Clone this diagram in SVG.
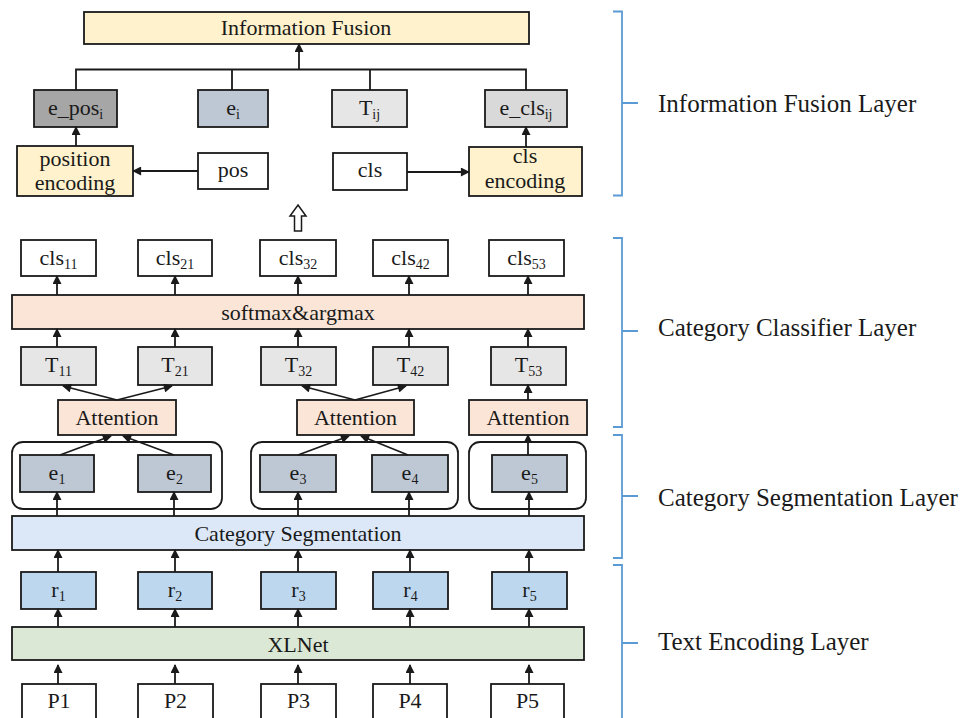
<svg xmlns="http://www.w3.org/2000/svg" width="967" height="718" viewBox="0 0 967 718">
<style>
.bx{stroke:#1a1a1a;stroke-width:1.8}
.w{fill:#ffffff}.y{fill:#FFF2CC}.dg{fill:#A6A6A6}.bg{fill:#BEC8D4}.lg{fill:#E7E6E6}.mg{fill:#D9D9D9}
.pe{fill:#FBE5D6}.lb{fill:#DCE8F7}.rb{fill:#BDD7EE}.gr{fill:#DAE8D5}
.grp{fill:none;stroke:#1a1a1a;stroke-width:1.8}
text{font-family:"Liberation Serif","Times New Roman",serif;font-size:22px;fill:#1a1a1a;text-anchor:middle}
.sub{font-size:14px}
.lay{font-size:25px;text-anchor:start}
.cn line,.cn path.ln{stroke:#1a1a1a;stroke-width:1.8;fill:none}
.ar{marker-end:url(#ah)}
.br{fill:none;stroke:#5B9BD5;stroke-width:1.8}
</style>
<defs>
<marker id="ah" viewBox="0 0 10 10" refX="9" refY="5" markerWidth="10" markerHeight="9" markerUnits="userSpaceOnUse" orient="auto">
<path d="M0,0 L10,5 L0,10 z" fill="#1a1a1a"/>
</marker>
</defs>
<rect width="967" height="718" fill="#ffffff"/>

<!-- Information fusion layer -->
<g id="fusion"><rect class="bx y" x="84" y="12" width="445" height="32"/><text x="306" y="35">Information Fusion</text></g>
<g id="epos"><rect class="bx dg" x="34" y="90" width="83" height="37"/><text x="75.5" y="115">e_pos<tspan class="sub" dy="4">i</tspan></text></g>
<g id="ei"><rect class="bx bg" x="198" y="90" width="70" height="37"/><text x="233" y="115">e<tspan class="sub" dy="4">i</tspan></text></g>
<g id="tij"><rect class="bx lg" x="332" y="90" width="75" height="37"/><text x="369.5" y="115">T<tspan class="sub" dy="4">ij</tspan></text></g>
<g id="ecls"><rect class="bx mg" x="485" y="90" width="82" height="37"/><text x="526" y="115">e_cls<tspan class="sub" dy="4">ij</tspan></text></g>
<g id="posenc"><rect class="bx y" x="17" y="146" width="116" height="50"/><text x="75" y="166">position</text><text x="75" y="190">encoding</text></g>
<g id="pos"><rect class="bx w" x="198" y="153" width="70" height="36"/><text x="233" y="177">pos</text></g>
<g id="cls"><rect class="bx w" x="333" y="153" width="74" height="37"/><text x="370" y="177">cls</text></g>
<g id="clsenc"><rect class="bx y" x="469" y="147" width="113" height="49"/><text x="525" y="163">cls</text><text x="525" y="188">encoding</text></g>

<!-- Category classifier layer -->
<g id="cls11"><rect class="bx w" x="21" y="240" width="75" height="36"/><text x="58.5" y="265">cls<tspan class="sub" dy="4">11</tspan></text></g>
<g id="cls21"><rect class="bx w" x="138" y="240" width="74" height="36"/><text x="175" y="265">cls<tspan class="sub" dy="4">21</tspan></text></g>
<g id="cls32"><rect class="bx w" x="260" y="240" width="76" height="36"/><text x="298" y="265">cls<tspan class="sub" dy="4">32</tspan></text></g>
<g id="cls42"><rect class="bx w" x="373" y="240" width="75" height="36"/><text x="410.5" y="265">cls<tspan class="sub" dy="4">42</tspan></text></g>
<g id="cls53"><rect class="bx w" x="489" y="240" width="75" height="36"/><text x="526.5" y="265">cls<tspan class="sub" dy="4">53</tspan></text></g>
<g id="softmax"><rect class="bx pe" x="12" y="295" width="572" height="34"/><text x="298" y="320">softmax&amp;argmax</text></g>
<g id="t11"><rect class="bx lg" x="21" y="347" width="75" height="38"/><text x="58.5" y="372">T<tspan class="sub" dy="4">11</tspan></text></g>
<g id="t21"><rect class="bx lg" x="138" y="347" width="74" height="38"/><text x="175" y="372">T<tspan class="sub" dy="4">21</tspan></text></g>
<g id="t32"><rect class="bx lg" x="261" y="347" width="75" height="38"/><text x="298.5" y="372">T<tspan class="sub" dy="4">32</tspan></text></g>
<g id="t42"><rect class="bx lg" x="373" y="347" width="75" height="38"/><text x="410.5" y="372">T<tspan class="sub" dy="4">42</tspan></text></g>
<g id="t53"><rect class="bx lg" x="491" y="347" width="75" height="38"/><text x="528.5" y="372">T<tspan class="sub" dy="4">53</tspan></text></g>
<g id="att1"><rect class="bx pe" x="58" y="400" width="118" height="35"/><text x="117" y="425">Attention</text></g>
<g id="att2"><rect class="bx pe" x="297" y="400" width="117" height="35"/><text x="355.5" y="425">Attention</text></g>
<g id="att3"><rect class="bx pe" x="469" y="400" width="118" height="35"/><text x="528" y="425">Attention</text></g>

<!-- Category segmentation layer -->
<g id="grp1"><rect class="grp" x="12" y="442" width="210" height="67" rx="11"/></g>
<g id="grp2"><rect class="grp" x="251" y="442" width="207" height="67" rx="11"/></g>
<g id="grp3"><rect class="grp" x="469" y="442" width="117" height="67" rx="11"/></g>
<g id="e1"><rect class="bx bg" x="20" y="455" width="74" height="37"/><text x="57" y="480">e<tspan class="sub" dy="4">1</tspan></text></g>
<g id="e2"><rect class="bx bg" x="138" y="455" width="73" height="37"/><text x="174.5" y="480">e<tspan class="sub" dy="4">2</tspan></text></g>
<g id="e3"><rect class="bx bg" x="260" y="455" width="76" height="37"/><text x="298" y="480">e<tspan class="sub" dy="4">3</tspan></text></g>
<g id="e4"><rect class="bx bg" x="372" y="455" width="76" height="37"/><text x="410" y="480">e<tspan class="sub" dy="4">4</tspan></text></g>
<g id="e5"><rect class="bx bg" x="492" y="455" width="75" height="37"/><text x="529.5" y="480">e<tspan class="sub" dy="4">5</tspan></text></g>
<g id="catseg"><rect class="bx lb" x="12" y="516" width="572" height="34"/><text x="298" y="541">Category Segmentation</text></g>

<!-- Text encoding layer -->
<g id="r1"><rect class="bx rb" x="21" y="572" width="75" height="37"/><text x="58.5" y="597">r<tspan class="sub" dy="4">1</tspan></text></g>
<g id="r2"><rect class="bx rb" x="138" y="572" width="74" height="37"/><text x="175" y="597">r<tspan class="sub" dy="4">2</tspan></text></g>
<g id="r3"><rect class="bx rb" x="261" y="572" width="75" height="37"/><text x="298.5" y="597">r<tspan class="sub" dy="4">3</tspan></text></g>
<g id="r4"><rect class="bx rb" x="373" y="572" width="75" height="37"/><text x="410.5" y="597">r<tspan class="sub" dy="4">4</tspan></text></g>
<g id="r5"><rect class="bx rb" x="492" y="572" width="75" height="37"/><text x="529.5" y="597">r<tspan class="sub" dy="4">5</tspan></text></g>
<g id="xlnet"><rect class="bx gr" x="12" y="627" width="572" height="33"/><text x="298" y="652">XLNet</text></g>
<g id="p1"><rect class="bx w" x="22" y="684" width="74" height="35"/><text x="59" y="708">P1</text></g>
<g id="p2"><rect class="bx w" x="138" y="684" width="75" height="35"/><text x="175.5" y="708">P2</text></g>
<g id="p3"><rect class="bx w" x="261" y="684" width="75" height="35"/><text x="298.5" y="708">P3</text></g>
<g id="p4"><rect class="bx w" x="373" y="684" width="74" height="35"/><text x="410" y="708">P4</text></g>
<g id="p5"><rect class="bx w" x="491" y="684" width="73" height="35"/><text x="527.5" y="708">P5</text></g>

<!-- connectors -->
<g id="connectors" class="cn">
<line class="ar" x1="299" y1="69" x2="299" y2="44"/>
<path class="ln" d="M76,90 V69.5 H526 V90 M232,69.5 V90 M370,69.5 V90"/>
<line class="ar" x1="76" y1="146" x2="76" y2="127"/>
<line class="ar" x1="198" y1="171" x2="133" y2="171"/>
<line class="ar" x1="407" y1="172" x2="469" y2="172"/>
<line class="ar" x1="526" y1="147" x2="526" y2="127"/>
<path d="M298,205 L306,216 L301.5,216 L301.5,231 L294.5,231 L294.5,216 L290,216 Z" fill="#ffffff" stroke="#1a1a1a" stroke-width="1.5"/>

<line class="ar" x1="57" y1="295" x2="57" y2="276"/>
<line class="ar" x1="175" y1="295" x2="175" y2="276"/>
<line class="ar" x1="298" y1="295" x2="298" y2="276"/>
<line class="ar" x1="409" y1="295" x2="409" y2="276"/>
<line class="ar" x1="528" y1="295" x2="528" y2="276"/>

<line class="ar" x1="57" y1="347" x2="57" y2="329"/>
<line class="ar" x1="175" y1="347" x2="175" y2="329"/>
<line class="ar" x1="298" y1="347" x2="298" y2="329"/>
<line class="ar" x1="409" y1="347" x2="409" y2="329"/>
<line class="ar" x1="528" y1="347" x2="528" y2="329"/>

<line class="ar" x1="117" y1="400" x2="63" y2="386"/>
<line class="ar" x1="117" y1="400" x2="172" y2="386"/>
<line class="ar" x1="355" y1="400" x2="302" y2="386"/>
<line class="ar" x1="355" y1="400" x2="406" y2="386"/>
<line class="ar" x1="528" y1="400" x2="528" y2="385"/>

<line class="ar" x1="60" y1="455" x2="111" y2="436"/>
<line class="ar" x1="174" y1="455" x2="123" y2="436"/>
<line class="ar" x1="298" y1="455" x2="349" y2="436"/>
<line class="ar" x1="408" y1="455" x2="361" y2="436"/>
<line class="ar" x1="528" y1="455" x2="528" y2="435"/>

<line class="ar" x1="57" y1="516" x2="57" y2="492"/>
<line class="ar" x1="174" y1="516" x2="174" y2="492"/>
<line class="ar" x1="298" y1="516" x2="298" y2="492"/>
<line class="ar" x1="409" y1="516" x2="409" y2="492"/>
<line class="ar" x1="529" y1="516" x2="529" y2="492"/>

<line class="ar" x1="58" y1="572" x2="58" y2="550"/>
<line class="ar" x1="175" y1="572" x2="175" y2="550"/>
<line class="ar" x1="298" y1="572" x2="298" y2="550"/>
<line class="ar" x1="410" y1="572" x2="410" y2="550"/>
<line class="ar" x1="529" y1="572" x2="529" y2="550"/>

<line class="ar" x1="58" y1="627" x2="58" y2="609"/>
<line class="ar" x1="175" y1="627" x2="175" y2="609"/>
<line class="ar" x1="298" y1="627" x2="298" y2="609"/>
<line class="ar" x1="410" y1="627" x2="410" y2="609"/>
<line class="ar" x1="529" y1="627" x2="529" y2="609"/>

<line class="ar" x1="58" y1="684" x2="58" y2="665"/>
<line class="ar" x1="175" y1="684" x2="175" y2="665"/>
<line class="ar" x1="298" y1="684" x2="298" y2="665"/>
<line class="ar" x1="410" y1="684" x2="410" y2="665"/>
<line class="ar" x1="529" y1="684" x2="529" y2="665"/>
</g>

<!-- layer brackets -->
<g id="layer-fusion"><path class="br" d="M613,11.5 H622 V195.5 H613 M622,103 H638"/><text class="lay" x="658" y="112">Information Fusion Layer</text></g>
<g id="layer-classifier"><path class="br" d="M613,238 H622 V427 H613 M622,331 H638"/><text class="lay" x="658" y="336">Category Classifier Layer</text></g>
<g id="layer-segmentation"><path class="br" d="M613,435 H622 V558 H613 M622,496 H638"/><text class="lay" x="658" y="506">Category Segmentation Layer</text></g>
<g id="layer-encoding"><path class="br" d="M613,565 H622 V718 M622,643 H638"/><text class="lay" x="658" y="650">Text Encoding Layer</text></g>
</svg>
